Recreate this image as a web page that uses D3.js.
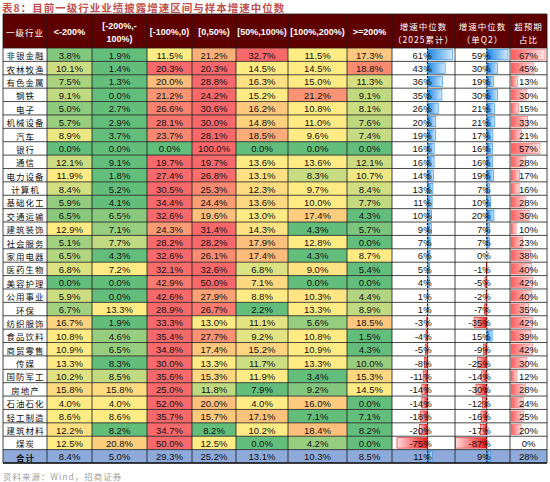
<!DOCTYPE html>
<html>
<head>
<meta charset="utf-8">
<script src="https://cdn.jsdelivr.net/npm/d3@7"></script>
<style>
  body { margin: 0; background: #fff; }
  svg { display: block; }
</style>
</head>
<body>
<div id="chart"></div>
<script>
const industries = ["非银金融", "农林牧渔", "有色金属", "钢铁", "电子", "机械设备", "汽车", "银行",
  "通信", "电力设备", "计算机", "基础化工", "交通运输", "建筑装饰", "社会服务", "家用电器",
  "医药生物", "美容护理", "公用事业", "环保", "纺织服饰", "食品饮料", "商贸零售", "传媒",
  "国防军工", "房地产", "石油石化", "轻工制造", "建筑材料", "煤炭"];

const buckets = ["<-200%", "[-200%,-100%)", "[-100%,0)", "[0,50%)", "[50%,100%)", "[100%,200%)", ">=200%"];

// share of companies in each growth bucket (%), one row per industry
const bucketShares = [
  [3.8, 1.9, 11.5, 21.2, 32.7, 11.5, 17.3],
  [10.1, 1.4, 20.3, 20.3, 14.5, 14.5, 18.8],
  [7.5, 1.3, 20.0, 28.8, 16.3, 15.0, 11.3],
  [9.1, 0.0, 21.2, 24.2, 15.2, 21.2, 9.1],
  [5.0, 2.7, 26.6, 30.6, 16.2, 10.8, 8.1],
  [5.7, 2.9, 28.1, 30.0, 14.8, 11.0, 7.6],
  [8.9, 3.7, 23.7, 28.1, 18.5, 9.6, 7.4],
  [0.0, 0.0, 0.0, 100.0, 0.0, 0.0, 0.0],
  [12.1, 9.1, 19.7, 19.7, 13.6, 13.6, 12.1],
  [11.9, 1.8, 27.4, 26.8, 13.1, 8.3, 10.7],
  [8.4, 5.2, 30.5, 25.3, 12.3, 9.7, 8.4],
  [5.9, 4.1, 34.4, 24.4, 13.6, 10.0, 7.7],
  [6.5, 6.5, 32.6, 19.6, 13.0, 17.4, 4.3],
  [12.9, 7.1, 24.3, 31.4, 14.3, 4.3, 5.7],
  [5.1, 7.7, 28.2, 28.2, 17.9, 12.8, 0.0],
  [6.5, 4.3, 32.6, 26.1, 17.4, 4.3, 8.7],
  [6.8, 7.2, 32.1, 32.6, 6.8, 9.0, 5.4],
  [0.0, 0.0, 42.9, 50.0, 7.1, 0.0, 0.0],
  [5.9, 0.0, 42.6, 27.9, 8.8, 10.3, 4.4],
  [6.7, 13.3, 28.9, 26.7, 2.2, 13.3, 8.9],
  [16.7, 1.9, 33.3, 13.0, 11.1, 5.6, 18.5],
  [10.8, 4.6, 35.4, 27.7, 9.2, 10.8, 1.5],
  [10.9, 6.5, 34.8, 17.4, 15.2, 10.9, 4.3],
  [13.3, 8.3, 30.0, 13.3, 11.7, 13.3, 10.0],
  [10.2, 8.5, 35.6, 15.3, 11.9, 3.4, 15.3],
  [15.8, 15.8, 25.0, 11.8, 7.9, 9.2, 14.5],
  [4.0, 4.0, 52.0, 20.0, 4.0, 16.0, 0.0],
  [8.6, 8.6, 35.7, 15.7, 17.1, 7.1, 7.1],
  [12.2, 8.2, 34.7, 8.2, 10.2, 18.4, 8.2],
  [12.5, 20.8, 50.0, 12.5, 0.0, 4.2, 0.0]
];

const growthYtd = [61, 43, 36, 35, 26, 20, 19, 16, 16, 14, 13, 11, 10, 9, 7, 6, 5, 4, 1, 1,
  -3, -4, -5, -8, -11, -14, -14, -18, -20, -75];
const growthQ2 = [59, 30, 19, 30, 21, 21, 17, 16, 16, 19, 7, 10, 20, 7, 7, 0, -1, -5, -2, -7,
  -35, 15, -9, -25, -14, -30, -12, -16, -17, -87];
const beatShare = [67, 45, 13, 30, 15, 33, 21, 57, 28, 17, 16, 28, 36, 10, 23, 38, 40, 42, 40, 35,
  42, 39, 42, 30, 12, 28, 24, 25, 20, 0];

const totalLabel = "合计";
const totalShares = [8.4, 5.0, 29.3, 25.2, 13.1, 10.3, 8.5];
const totalYtd = 11, totalQ2 = 9, totalBeat = 28;

const headerLines = [["一级行业"], ["<-200%"], ["[-200%,-", "100%)"], ["[-100%,0)"], ["[0,50%)"],
  ["[50%,100%)"], ["[100%,200%)"], [">=200%"], ["增速中位数", "（2025累计）"], ["增速中位数", "（单Q2）"],
  ["超预期", "占比"]];

const titleText = "表8：目前一级行业业绩披露增速区间与样本增速中位数";
const sourceText = "资料来源：Wind，招商证券";

// ---- layout ----
const width = 550;
const height = 482;
const tableLeft = 3;
const headTop = 14, headBottom = 48, tableBottom = 463;
const colWidths = [44, 45, 55, 45, 44, 52, 59, 45, 63, 55, 37];

const cjk = "'Noto Sans CJK SC', sans-serif";
const latin = "'Liberation Sans', Arial, sans-serif";
const green = "#63BE7B", yellow = "#FFEB84", red = "#F8696B";

const svg = d3.select("#chart")
    .append("svg")
    .attr("width", width)
    .attr("height", height);

const colKeys = ["name", ...buckets, "ytd", "q2", "beat"];
const colLefts = Array.from(d3.cumsum([0, ...colWidths.slice(0, -1)]), v => v + tableLeft);
const tableRight = tableLeft + d3.sum(colWidths);

const x = d3.scaleOrdinal().domain(colKeys).range(colLefts);
const cw = d3.scaleOrdinal().domain(colKeys).range(colWidths);

const rowKeys = [...industries, totalLabel];
const y = d3.scaleBand().domain(rowKeys).range([headBottom, tableBottom]);
const rowH = y.bandwidth();

// data bar scales (Excel-style auto min/max)
const ytdScale = d3.scaleLinear().domain(d3.extent(growthYtd))
    .range([x("ytd") + 5, x("ytd") + cw("ytd") - 2.5]);
const q2Scale = d3.scaleLinear().domain(d3.extent(growthQ2))
    .range([x("q2") + 0.5, x("q2") + cw("q2") - 2]);
const beatScale = d3.scaleLinear().domain([0, d3.max(beatShare)])
    .range([x("beat") + 1, x("beat") + cw("beat") - 2]);

// per-row 3-colour scale, like Excel's green-yellow-red
function rowColour(vals) {
    const sorted = vals.slice().sort(d3.ascending);
    const lo = sorted[0], mid = d3.quantile(sorted, 0.5), hi = sorted[sorted.length - 1];
    const s = d3.scaleLinear().domain([lo, mid, hi]).range([green, yellow, red]).clamp(true);
    return v => v <= lo ? green : s(v);
}

const rows = industries.map((name, i) => ({
    name, shares: bucketShares[i], ytd: growthYtd[i], q2: growthQ2[i], beat: beatShare[i], total: false
}));
rows.push({ name: totalLabel, shares: totalShares, ytd: totalYtd, q2: totalQ2, beat: totalBeat, total: true });

// gradients for data bars
const defs = svg.append("defs");
function grad(id, from, to, reverse) {
    const g = defs.append("linearGradient").attr("id", id)
        .attr("x1", reverse ? 1 : 0).attr("x2", reverse ? 0 : 1).attr("y1", 0).attr("y2", 0);
    g.append("stop").attr("offset", "0%").attr("stop-color", from);
    g.append("stop").attr("offset", "100%").attr("stop-color", to);
}
grad("bluePos", "#1a86e6", "#d4e9fb", false);
grad("redNeg", "#ee1a1a", "#ffdcdc", true);
grad("beatRed", "#ff5959", "#ffe4e4", false);

// title
svg.append("text")
    .attr("x", 2)
    .attr("y", 11.5)
    .attr("font-family", cjk)
    .attr("font-size", 10.5)
    .attr("font-weight", "bold")
    .attr("letter-spacing", 1)
    .attr("fill", "#c0504d")
    .text(titleText);

// header band
svg.append("rect")
    .attr("x", tableLeft)
    .attr("y", headTop)
    .attr("width", tableRight - tableLeft)
    .attr("height", headBottom - headTop)
    .attr("fill", "#5e0000");

const headMid = (headTop + headBottom) / 2;
colKeys.forEach((key, i) => {
    const lines = headerLines[i];
    const isCjk = /[\u4e00-\u9fff]/.test(lines[0]);
    const t = svg.append("text")
        .attr("text-anchor", "middle")
        .attr("fill", "#fff")
        .attr("font-family", isCjk ? cjk : latin)
        .attr("font-size", isCjk ? 8.5 : 9)
        .attr("font-weight", isCjk ? "normal" : "bold")
        .attr("letter-spacing", isCjk ? 1 : 0);
    lines.forEach((line, j) => {
        const off = lines.length === 1 ? 0 : (j === 0 ? -6.5 : 7);
        t.append("tspan")
            .attr("x", x(key) + cw(key) / 2)
            .attr("y", headMid + off + 1)
            .attr("dominant-baseline", "central")
            .text(line);
    });
});

// body rows
const rowG = svg.selectAll("g.row")
    .data(rows)
    .enter()
    .append("g")
    .attr("class", "row")
    .attr("transform", d => `translate(0,${y(d.name)})`);

rowG.each(function (d) {
    const g = d3.select(this);
    const bg = d.total ? "#8eaadb" : "#fff";
    const colour = rowColour(d.shares);

    g.append("rect")
        .attr("x", x("name")).attr("width", cw("name")).attr("height", rowH).attr("fill", bg);

    buckets.forEach((b, j) => {
        g.append("rect")
            .attr("x", x(b)).attr("width", cw(b)).attr("height", rowH)
            .attr("fill", d.total ? bg : colour(d.shares[j]));
        g.append("text")
            .attr("x", x(b) + cw(b) / 2)
            .attr("y", rowH / 2 + 0.5)
            .attr("text-anchor", "middle")
            .attr("dominant-baseline", "central")
            .attr("font-family", latin)
            .attr("font-size", 9.5)
            .attr("fill", "#111")
            .text(d.shares[j].toFixed(1) + "%");
    });

    ["ytd", "q2", "beat"].forEach(k => {
        g.append("rect")
            .attr("x", x(k)).attr("width", cw(k)).attr("height", rowH).attr("fill", bg);
    });

    // median growth bars
    [["ytd", ytdScale], ["q2", q2Scale]].forEach(([k, sc]) => {
        const v = d[k];
        if (v !== 0) {
            const x0 = sc(Math.min(0, v)), x1 = sc(Math.max(0, v));
            g.append("rect")
                .attr("x", x0)
                .attr("y", 1.5)
                .attr("width", x1 - x0)
                .attr("height", rowH - 3)
                .attr("fill", v > 0 ? "url(#bluePos)" : "url(#redNeg)")
                .attr("stroke", v > 0 ? "#1a86e6" : "#d81010")
                .attr("stroke-width", 0.6);
        }
        g.append("text")
            .attr("x", sc(0) + 4)
            .attr("y", rowH / 2 + 0.5)
            .attr("text-anchor", "end")
            .attr("dominant-baseline", "central")
            .attr("font-family", latin)
            .attr("font-size", 9.5)
            .attr("fill", "#111")
            .text(v + "%");
    });

    // beat-expectation share bars
    if (!d.total && d.beat > 0) {
        g.append("rect")
            .attr("x", beatScale(0))
            .attr("y", 1.5)
            .attr("width", beatScale(d.beat) - beatScale(0))
            .attr("height", rowH - 3)
            .attr("fill", "url(#beatRed)")
            .attr("stroke", "#ff6b6b")
            .attr("stroke-width", 0.6);
    }
    g.append("text")
        .attr("x", x("beat") + cw("beat") / 2)
        .attr("y", rowH / 2 + 0.5)
        .attr("text-anchor", "middle")
        .attr("dominant-baseline", "central")
        .attr("font-family", latin)
        .attr("font-size", 9.5)
        .attr("fill", "#111")
        .text(d.beat + "%");

    // industry name
    g.append("text")
        .attr("x", x("name") + cw("name") / 2 + 0.5)
        .attr("y", rowH / 2 + 0.5)
        .attr("text-anchor", "middle")
        .attr("dominant-baseline", "central")
        .attr("font-family", cjk)
        .attr("font-size", 8.5)
        .attr("font-weight", d.total ? "bold" : "normal")
        .attr("letter-spacing", 1)
        .attr("fill", "#111")
        .text(d.name);
});

// dashed zero axes of the data bars
[ytdScale, q2Scale].forEach(sc => {
    svg.append("line")
        .attr("x1", sc(0)).attr("x2", sc(0))
        .attr("y1", headBottom).attr("y2", tableBottom)
        .attr("stroke", "#000")
        .attr("stroke-width", 0.9)
        .attr("stroke-dasharray", "2,1.5");
});

// grid lines
const grid = svg.append("g").attr("stroke", "#1a1a1a").attr("stroke-width", 0.8);
grid.selectAll("line.h")
    .data([...rowKeys.map(k => y(k)), tableBottom])
    .enter()
    .append("line")
    .attr("x1", tableLeft).attr("x2", tableRight)
    .attr("y1", d => d).attr("y2", d => d);
grid.selectAll("line.v")
    .data([...colKeys.map(k => x(k)), tableRight])
    .enter()
    .append("line")
    .attr("x1", d => d).attr("x2", d => d)
    .attr("y1", headTop).attr("y2", tableBottom);
grid.append("line")
    .attr("x1", tableLeft).attr("x2", tableRight)
    .attr("y1", headTop).attr("y2", headTop);
grid.append("line")
    .attr("x1", tableLeft).attr("x2", tableRight)
    .attr("y1", tableBottom).attr("y2", tableBottom)
    .attr("stroke-width", 1.4);

// source note
svg.append("text")
    .attr("x", 3)
    .attr("y", 480)
    .attr("font-family", cjk)
    .attr("font-size", 8.5)
    .attr("letter-spacing", 1)
    .attr("fill", "#a0a0a0")
    .text(sourceText);
</script>
</body>
</html>
